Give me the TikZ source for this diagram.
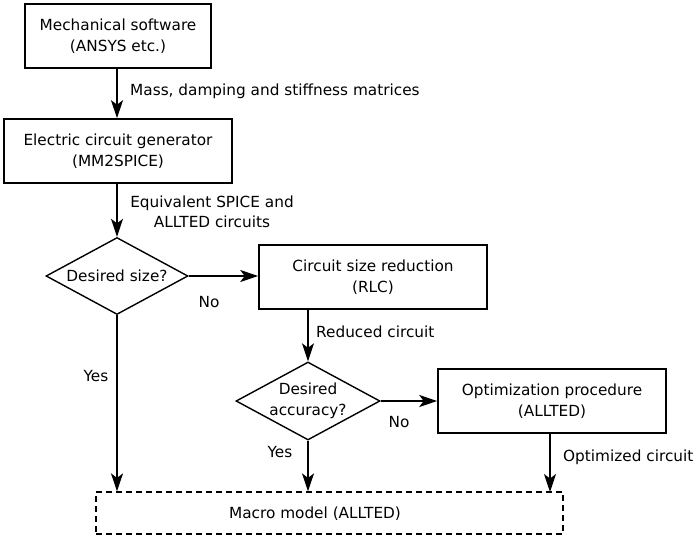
\documentclass[tikz,border=0pt]{standalone}
\usepackage{fontspec}
\setmainfont{DejaVu Sans}
\usetikzlibrary{shapes.geometric,arrows.meta}
\begin{document}
\begin{tikzpicture}[x=1pt,y=-1pt,
  font=\fontsize{15.3}{20.5}\selectfont,
  box/.style={draw, line width=1.6pt, inner sep=0pt, align=center, minimum width=228pt, minimum height=64pt},
  dec/.style={draw, line width=1.4pt, diamond, inner sep=0pt, align=center, aspect=1.85},
  arr/.style={line width=1.4pt, -{Stealth[length=18pt,width=12pt,inset=4.5pt]}},
  lbl/.style={inner sep=0pt, align=center}]
\useasboundingbox (0,0) rectangle (693,541);
\node[box, minimum width=186pt] (b1) at (118,36) {Mechanical software\\(ANSYS etc.)};
\node[box] (b2) at (118,151) {Electric circuit generator\\(MM2SPICE)};
\node[dec, minimum width=142pt, minimum height=77pt] (d1) at (117,276) {Desired size?};
\node[box] (b3) at (373,277) {Circuit size reduction\\(RLC)};
\node[dec, minimum width=144pt, minimum height=78pt] (d2) at (308,401) {Desired\\accuracy?};
\node[box] (b4) at (552,401) {Optimization procedure\\(ALLTED)};
\node[draw, line width=1.2pt, dash pattern=on 6pt off 4pt, minimum width=467pt, minimum height=42pt, inner sep=0pt] (mac) at (329.5,513) {};
\node[lbl] (mact) at (315,514) {Macro model (ALLTED)};

\draw[arr] (b1.south -| d1.north) -- (b2.north -| d1.north);
\draw[arr] (b2.south -| d1.north) -- (d1.north);
\draw[arr] (d1.east) -- (b3.west |- d1.east);
\draw[arr] (b3.south -| d2.north) -- (d2.north);
\draw[arr] (d2.east) -- (b4.west |- d2.east);
\draw[arr] (d1.south) -- (d1.south |- mac.north);
\draw[arr] (d2.south) -- (d2.south |- mac.north);
\draw[arr] (b4.south -| 550,0) -- (550,492);

\node[lbl, anchor=west] (l1) at (130,91) {Mass, damping and stiffness matrices};
\node[lbl] (l2) at (212,212) {Equivalent SPICE and\\ALLTED circuits};
\node[lbl] (l3) at (209,302) {No};
\node[lbl] (l4) at (96,376) {Yes};
\node[lbl, anchor=west] (l5) at (316,332) {Reduced circuit};
\node[lbl] (l6) at (399,422) {No};
\node[lbl] (l7) at (280,452) {Yes};
\node[lbl, anchor=west] (l8) at (563,457) {Optimized circuit};
\end{tikzpicture}
\end{document}
